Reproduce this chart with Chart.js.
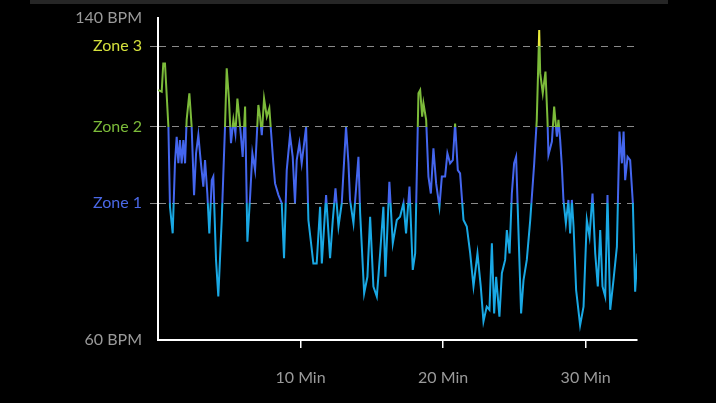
<!DOCTYPE html>
<html><head><meta charset="utf-8">
<script src="https://cdn.jsdelivr.net/npm/chart.js@4"></script>
<style>
html,body{margin:0;padding:0;background:#000;width:716px;height:403px;overflow:hidden}
#bar{position:absolute;left:30px;top:0;width:638px;height:4px;background:#262626}
canvas{position:absolute;left:0;top:0}
</style></head><body>
<div id="bar"></div>
<canvas id="c" width="716" height="403"></canvas>
<script>
const minutes=[0.02,0.26,0.37,0.49,0.73,0.84,1.03,1.19,1.31,1.43,1.54,1.66,1.78,1.90,2.01,2.20,2.36,2.53,2.67,2.83,2.99,3.18,3.30,3.46,3.60,3.77,3.88,4.07,4.23,4.47,4.70,4.82,4.98,5.12,5.29,5.43,5.57,5.76,5.94,6.11,6.27,6.46,6.62,6.81,7.04,7.16,7.28,7.44,7.63,7.81,8.09,8.21,8.45,8.68,8.84,9.03,9.26,9.45,9.61,9.73,9.92,10.08,10.39,10.55,10.90,11.13,11.37,11.49,11.79,12.07,12.26,12.45,12.66,12.89,13.19,13.36,13.47,13.71,14.06,14.18,14.46,14.69,14.88,15.11,15.35,15.58,15.81,15.95,16.23,16.47,16.75,16.98,17.22,17.40,17.64,17.87,18.04,18.27,18.39,18.53,18.62,18.81,18.97,19.14,19.32,19.51,19.74,19.91,20.14,20.30,20.49,20.68,20.84,21.03,21.19,21.43,21.66,21.90,22.13,22.41,22.64,22.83,23.06,23.25,23.42,23.58,23.72,23.95,24.12,24.35,24.47,24.66,24.82,24.98,25.12,25.29,25.47,25.64,25.87,26.11,26.39,26.57,26.74,26.81,26.99,27.18,27.32,27.39,27.63,27.79,27.98,28.09,28.21,28.33,28.44,28.61,28.79,28.91,29.03,29.15,29.33,29.61,29.85,30.08,30.27,30.48,30.67,30.85,31.02,31.18,31.37,31.53,31.72,31.95,32.19,32.37,32.54,32.66,32.77,32.94,33.12,33.31,33.47,33.64,33.73];
const bpm=[122.1,121.7,128.7,128.7,113.0,93.1,86.5,103.9,110.5,103.9,109.7,103.9,109.7,103.9,114.7,121.3,113.0,96.0,106.4,110.9,104.7,98.1,104.7,96.4,86.5,99.7,100.6,79.9,70.8,89.8,113.0,127.5,119.6,108.9,114.7,111.3,120.0,113.0,105.5,118.0,84.4,95.6,106.4,102.2,118.4,115.5,110.9,120.0,115.5,117.6,103.9,98.9,96.0,94.0,80.3,102.2,110.9,105.5,94.0,104.7,108.9,103.9,113.0,89.8,79.0,79.0,93.1,79.0,96.0,80.3,89.8,97.7,88.2,94.0,113.0,103.9,94.8,89.0,105.5,91.5,71.6,75.7,90.6,73.3,70.8,81.5,93.1,75.7,99.3,84.0,89.8,90.6,94.0,86.5,98.1,77.4,81.5,121.3,122.1,115.5,118.8,114.7,100.6,96.4,107.6,98.9,93.1,100.6,100.6,106.4,103.9,104.7,113.8,102.2,101.4,89.8,88.2,81.5,73.3,81.5,73.3,64.6,68.3,67.5,84.0,66.6,75.7,65.8,76.6,79.9,87.3,81.5,96.4,103.9,105.5,86.5,66.6,74.9,79.9,89.8,103.9,114.7,137.0,126.3,121.3,126.7,114.7,106.0,109.3,118.0,110.5,114.7,109.7,103.1,94.8,89.0,94.8,86.5,94.8,88.2,72.4,63.7,68.3,89.8,85.7,96.4,81.5,73.3,87.3,73.3,70.8,96.0,67.5,74.9,83.2,111.8,103.9,111.8,99.7,105.5,104.7,94.0,72.0,81.5,87.3];
const zoneValues=[94,113,133];
const zoneLabels=['Zone 1','Zone 2','Zone 3'];
const zoneColors=['#4a68e6','#7cbb3a','#d4e03c'];
const lineColors=['#19a8e4','#4466ee','#7cbb3a','#e8ea3a'];
const yTickVals=[60,94,113,133,140];
const xTickVals=[10,20,30];

function grad(ctx){
  const ch=ctx.chart, a=ch.chartArea; if(!a) return lineColors[0];
  const y=ch.scales.y, g=ch.ctx.createLinearGradient(0,a.bottom,0,a.top);
  const h=a.bottom-a.top;
  const f=v=>Math.min(1,Math.max(0,(a.bottom-y.getPixelForValue(v))/h));
  g.addColorStop(0,lineColors[0]);
  zoneValues.forEach((v,i)=>{g.addColorStop(f(v),lineColors[i]);g.addColorStop(f(v),lineColors[i+1]);});
  g.addColorStop(1,lineColors[3]);
  return g;
}
const ylab=v=>{const i=zoneValues.indexOf(v);return i>=0?zoneLabels[i]:v+' BPM';};
const ycol=c=>{const i=zoneValues.indexOf(c.tick.value);return i>=0?zoneColors[i]:'#9a9a9a';};
const isZone=c=>c.tick&&zoneValues.includes(c.tick.value);
new Chart(document.getElementById('c'),{
  type:'line',
  data:{datasets:[{data:minutes.map((m,i)=>({x:m,y:bpm[i]})),borderColor:grad,borderWidth:2,pointRadius:0,tension:0}]},
  options:{responsive:false,animation:false,devicePixelRatio:1,
    layout:{padding:{top:18,right:79}},
    plugins:{legend:{display:false},tooltip:{enabled:false}},
    scales:{
      x:{type:'linear',min:0,max:33.6,
        afterBuildTicks:s=>{s.ticks=xTickVals.map(v=>({value:v}));},
        afterFit:s=>{s.height=63;},
        border:{color:'#fff',width:2},
        grid:{drawOnChartArea:false,tickLength:8,tickColor:'#fff',lineWidth:1.5},
        ticks:{callback:v=>v+' Min',color:'#9a9a9a',font:{family:'Lato',size:16},padding:20,maxRotation:0,autoSkip:false}},
      y:{min:60,max:140,
        afterBuildTicks:s=>{s.ticks=yTickVals.map(v=>({value:v}));},
        afterFit:s=>{s.width=158;},
        border:{color:'#fff',width:2,dash:[7,6]},
        grid:{color:c=>isZone(c)?'#8a8a8a':'rgba(0,0,0,0)',
              tickColor:c=>isZone(c)?'#8a8a8a':'rgba(0,0,0,0)',
              tickLength:8,lineWidth:1},
        ticks:{callback:ylab,color:ycol,font:{family:'Lato',size:16},padding:8,autoSkip:false}}
    }
  }
});
</script></body></html>
